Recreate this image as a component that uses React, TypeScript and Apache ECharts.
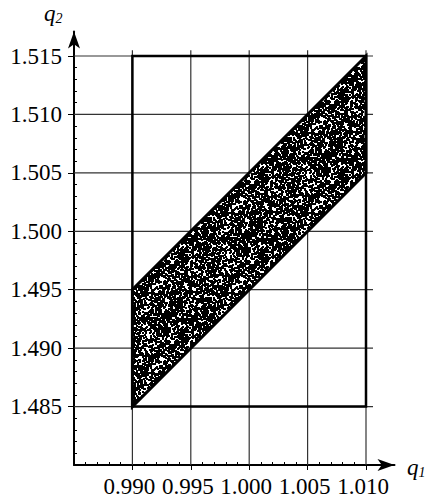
import React, { useEffect, useRef } from 'react';
import * as echarts from 'echarts';

// ---- data ----
const xTicks = [0.99, 0.995, 1.0, 1.005, 1.01];
const yTicks = [1.485, 1.49, 1.495, 1.5, 1.505, 1.51, 1.515];
const xRange = [0.985, 1.01];
const yRange = [1.48, 1.515];
const xInterval = 0.005;
const yInterval = 0.005;
const gridLineEndX = 1.0106; // horizontal grid lines run slightly past the last tick
const gridLineEndY = 1.5155; // vertical grid lines run slightly past the last tick
const boxCorners = [
  [0.99, 1.485],
  [0.99, 1.515],
  [1.01, 1.515],
  [1.01, 1.485],
  [0.99, 1.485],
];
const bandCorners = [
  [0.99, 1.485],
  [0.99, 1.495],
  [1.01, 1.515],
  [1.01, 1.505],
];

const FONT = 'Liberation Serif';

// speckle texture used as fill style of the band (pure styling, deterministic)
function makeSpeckle(): string {
  const size = 80;
  const c = document.createElement('canvas');
  c.width = size;
  c.height = size;
  const ctx = c.getContext('2d');
  if (!ctx) return '';
  ctx.fillStyle = '#fff';
  ctx.fillRect(0, 0, size, size);
  ctx.fillStyle = '#000';
  let s = 987654321;
  const next = () => {
    s = (Math.imul(s, 1103515245) + 12345) >>> 0;
    return (s >>> 8) / 16777216;
  };
  for (let i = 0; i < 2400; i++) {
    const x = Math.floor(next() * size);
    const y = Math.floor(next() * size);
    ctx.fillRect(x, y, 2, 2);
    if (x === size - 1) ctx.fillRect(0, y, 1, 2);
    if (y === size - 1) ctx.fillRect(x, 0, 2, 1);
    if (x === size - 1 && y === size - 1) ctx.fillRect(0, 0, 1, 1);
  }
  return c.toDataURL();
}

export default function App() {
  const ref = useRef<HTMLDivElement>(null);

  useEffect(() => {
    if (!ref.current) return;
    const chart = echarts.init(ref.current, undefined, { renderer: 'svg' });
    const speckle = makeSpeckle();

    const mainGrid = { left: 74, right: 59, top: 56, bottom: 35, outerBoundsMode: 'none', containLabel: false };
    const arrowGrid = { left: 74, right: 30.5, top: 31.5, bottom: 35, outerBoundsMode: 'none', containLabel: false };

    const subText = (sub: string) => ({
      text: '{q|q}{s|' + sub + '}',
      rich: {
        q: { fontFamily: FONT, fontStyle: 'italic', fontSize: 23, fill: '#000', lineHeight: 24 },
        s: { fontFamily: FONT, fontStyle: 'italic', fontSize: 14, fill: '#000', lineHeight: 24, verticalAlign: 'bottom' },
      },
    });

    const labelStyle = {
      formatter: (v: number) => v.toFixed(3),
      fontFamily: FONT,
      fontSize: 23,
      color: '#000',
      hideOverlap: false,
      overflow: 'none',
    };

    const arrowAxis = {
      type: 'value',
      gridIndex: 1,
      min: 0,
      max: 1,
      axisLine: {
        show: true,
        onZero: false,
        symbol: ['none', 'arrow'],
        symbolSize: [9, 17],
        lineStyle: { color: '#000', width: 2 },
      },
      axisTick: { show: false },
      axisLabel: { show: false },
      splitLine: { show: false },
    };

    const option: any = {
      animation: false,
      backgroundColor: '#fff',
      grid: [mainGrid, arrowGrid],
      xAxis: [
        {
          type: 'value',
          gridIndex: 0,
          position: 'bottom',
          min: xRange[0],
          max: xRange[1],
          interval: xInterval,
          axisLine: { show: false },
          axisTick: { show: true, inside: false, length: 5, lineStyle: { color: '#000', width: 1 } },
          minorTick: { show: false },
          axisLabel: { ...labelStyle, showMinLabel: false, margin: 10, padding: [0, 6, 0, 0] },
          splitLine: { show: false },
        },
        {
          type: 'value',
          gridIndex: 0,
          position: 'bottom',
          min: xRange[0],
          max: xRange[1],
          interval: xInterval,
          axisLine: { show: false },
          axisTick: { show: false, inside: true },
          minorTick: { show: true, splitNumber: 5, length: 3, lineStyle: { color: '#000', width: 1 } },
          axisLabel: { show: false },
          splitLine: { show: false },
        },
        { ...arrowAxis },
      ],
      yAxis: [
        {
          type: 'value',
          gridIndex: 0,
          position: 'left',
          min: yRange[0],
          max: yRange[1],
          interval: yInterval,
          axisLine: { show: false },
          axisTick: { show: true, inside: false, length: 6, lineStyle: { color: '#000', width: 1 } },
          minorTick: { show: false },
          axisLabel: { ...labelStyle, showMinLabel: false, margin: 12 },
          splitLine: { show: false },
        },
        {
          type: 'value',
          gridIndex: 0,
          position: 'left',
          min: yRange[0],
          max: yRange[1],
          interval: yInterval,
          axisLine: { show: false },
          axisTick: { show: false, inside: true },
          minorTick: { show: true, splitNumber: 5, length: 3, lineStyle: { color: '#000', width: 1 } },
          axisLabel: { show: false },
          splitLine: { show: false },
        },
        { ...arrowAxis },
      ],
      graphic: [
        { type: 'text', left: 44, top: 2, style: subText('2') },
        { type: 'text', left: 407, top: 456, style: subText('1') },
      ],
      series: [
        {
          type: 'custom',
          name: 'vgrid',
          xAxisIndex: 0,
          yAxisIndex: 0,
          clip: false,
          z: 1,
          silent: true,
          data: xTicks.map((v) => [v, yRange[0]]),
          renderItem: (_p: any, api: any) => {
            const v = api.value(0);
            const a = api.coord([v, yRange[0]]);
            const b = api.coord([v, gridLineEndY]);
            return {
              type: 'line',
              shape: { x1: a[0], y1: a[1], x2: b[0], y2: b[1] },
              style: { stroke: '#333', lineWidth: 1.2 },
            };
          },
        },
        {
          type: 'custom',
          name: 'hgrid',
          xAxisIndex: 0,
          yAxisIndex: 0,
          clip: false,
          z: 1,
          silent: true,
          data: yTicks.map((v) => [xRange[0], v]),
          renderItem: (_p: any, api: any) => {
            const v = api.value(1);
            const a = api.coord([xRange[0], v]);
            const b = api.coord([gridLineEndX, v]);
            return {
              type: 'line',
              shape: { x1: a[0], y1: a[1], x2: b[0], y2: b[1] },
              style: { stroke: '#333', lineWidth: 1.2 },
            };
          },
        },
        {
          type: 'line',
          name: 'box',
          xAxisIndex: 0,
          yAxisIndex: 0,
          data: boxCorners,
          symbol: 'none',
          clip: false,
          z: 3,
          lineStyle: { color: '#000', width: 2.5, join: 'miter' },
        },
        {
          type: 'custom',
          name: 'band',
          xAxisIndex: 0,
          yAxisIndex: 0,
          clip: false,
          z: 4,
          data: bandCorners,
          renderItem: (p: any, api: any) => {
            if (p.dataIndex !== 0) return null;
            const pts = bandCorners.map((c) => api.coord(c));
            return {
              type: 'polygon',
              shape: { points: pts },
              style: {
                fill: speckle ? { image: speckle, repeat: 'repeat', imageWidth: 80, imageHeight: 80 } : '#222',
                stroke: '#000',
                lineWidth: 3,
                lineJoin: 'miter',
              },
            };
          },
        },
      ],
    };

    chart.setOption(option);
    return () => chart.dispose();
  }, []);

  return <div ref={ref} style={{ width: 425, height: 500, position: 'absolute', left: 0, top: 0 }} />;
}
